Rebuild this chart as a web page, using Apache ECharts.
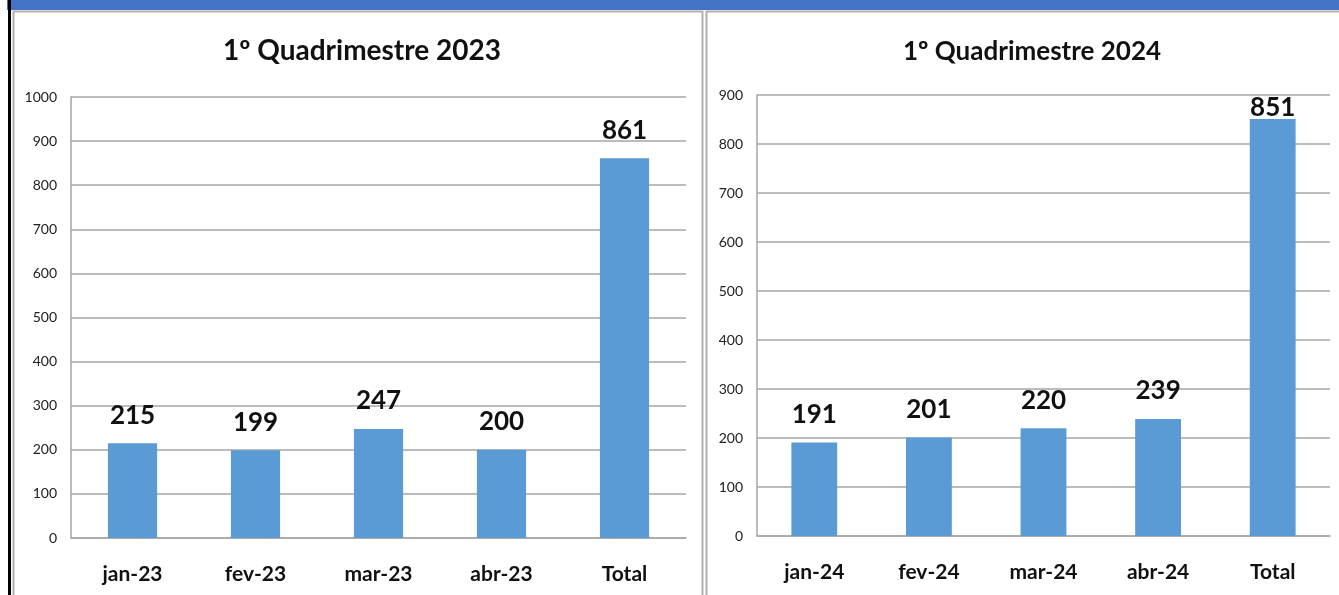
<!DOCTYPE html>
<html lang="pt">
<head>
  <meta charset="UTF-8">
  <title>Quadrimestre</title>
  <style>
    html, body { margin: 0; padding: 0; background: #fff; }
    #main { width: 1339px; height: 595px; }
  </style>
</head>
<body>
  <div id="main"></div>
  <script src="https://cdn.jsdelivr.net/npm/echarts@6/dist/echarts.min.js"></script>
  <script>
    // dados
    var meses2023 = ['jan-23', 'fev-23', 'mar-23', 'abr-23', 'Total'];
    var valores2023 = [215, 199, 247, 200, 861];
    var meses2024 = ['jan-24', 'fev-24', 'mar-24', 'abr-24', 'Total'];
    var valores2024 = [191, 201, 220, 239, 851];
    var titulo2023 = '1º Quadrimestre 2023';
    var titulo2024 = '1º Quadrimestre 2024';

    var font = 'Lato, "Liberation Sans", sans-serif';
    var myChart = echarts.init(document.getElementById('main'));

    function yAxis(idx, max) {
      return {
        type: 'value', gridIndex: idx, min: 0, max: max, interval: 100,
        axisLine: { show: true, lineStyle: { color: '#a6a6a6', width: 1.5 } },
        axisTick: { show: false },
        splitLine: { lineStyle: { color: '#a6a6a6', width: 1.5 } },
        axisLabel: { color: '#222', fontSize: 14, fontFamily: font, margin: 14,
          formatter: function (v) { return String(v); } }
      };
    }

    function xAxis(idx, cats) {
      return {
        type: 'category', gridIndex: idx, data: cats,
        axisLine: { lineStyle: { color: '#a6a6a6', width: 1.5 } },
        axisTick: { show: false },
        axisLabel: { color: '#111', fontSize: 21, fontWeight: 'bold', fontFamily: font, margin: 26 }
      };
    }

    function barData(vals, tightLast) {
      return vals.map(function (v, i) {
        var item = { value: v };
        if (tightLast && i === vals.length - 1) item.label = { distance: -2 };
        return item;
      });
    }

    function barSeries(idx, vals, tightLast) {
      return {
        type: 'bar', xAxisIndex: idx, yAxisIndex: idx,
        data: barData(vals, tightLast),
        barWidth: '40%',
        itemStyle: { color: '#5b9bd5' },
        label: {
          show: true, position: 'top', distance: 15,
          color: '#111', fontSize: 26, fontWeight: 'bold', fontFamily: font
        },
        animation: false
      };
    }

    var option = {
      backgroundColor: '#fff',
      animation: false,
      title: [
        { text: titulo2023, left: 357, top: 32, textAlign: 'center',
          textStyle: { fontSize: 28, fontWeight: 'bold', color: '#111', fontFamily: font } },
        { text: titulo2024, left: 1027, top: 34, textAlign: 'center',
          textStyle: { fontSize: 26, fontWeight: 'bold', color: '#111', fontFamily: font } }
      ],
      graphic: [
        { type: 'rect', shape: { x: 7, y: 0, width: 1332, height: 10 }, style: { fill: '#4472c4' }, silent: true },
        { type: 'rect', shape: { x: 8, y: 0, width: 3, height: 595 }, style: { fill: '#000' }, silent: true },
        { type: 'rect', shape: { x: 13.5, y: 11.5, width: 689, height: 600 },
          style: { fill: 'none', stroke: '#b0b0b0', lineWidth: 2 }, silent: true },
        { type: 'rect', shape: { x: 706.5, y: 11.5, width: 640, height: 600 },
          style: { fill: 'none', stroke: '#b0b0b0', lineWidth: 2 }, silent: true }
      ],
      grid: [
        { left: 71, top: 97, right: 653, bottom: 57 },
        { left: 757, top: 95, right: 9, bottom: 59 }
      ],
      xAxis: [xAxis(0, meses2023), xAxis(1, meses2024)],
      yAxis: [yAxis(0, 1000), yAxis(1, 900)],
      series: [barSeries(0, valores2023, false), barSeries(1, valores2024, true)]
    };

    myChart.setOption(option);
  </script>
</body>
</html>
